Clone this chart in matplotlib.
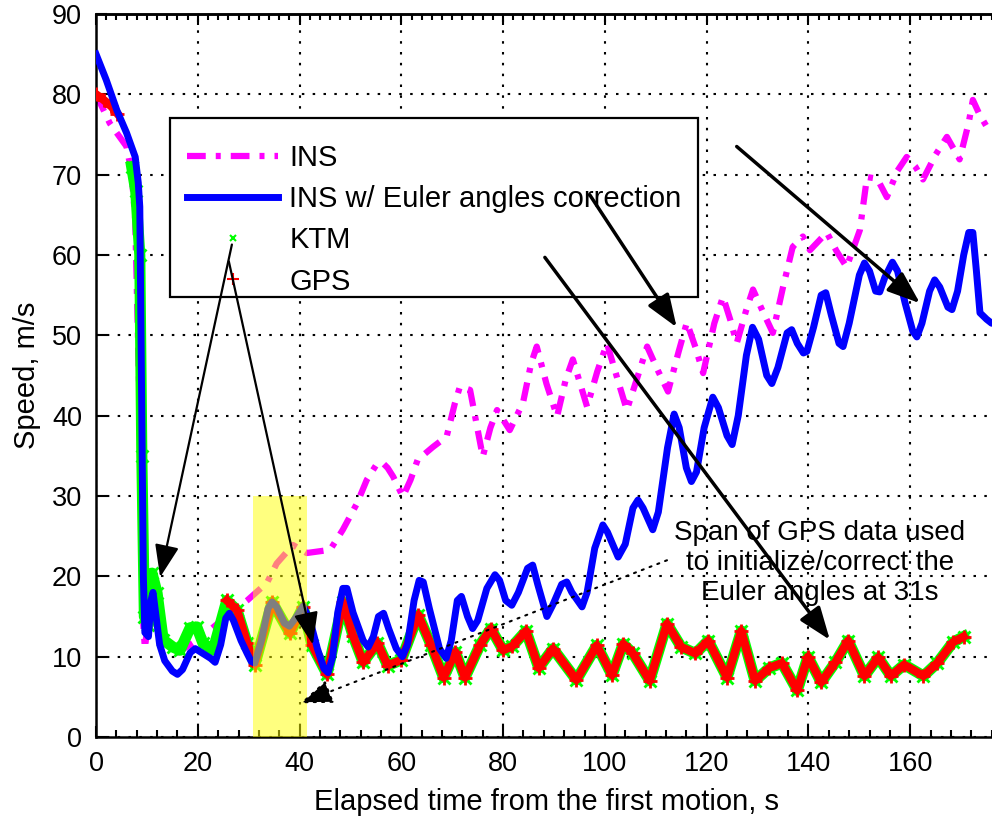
import numpy as np
import matplotlib
matplotlib.use('Agg')
import matplotlib.pyplot as plt
from matplotlib.lines import Line2D
from matplotlib.patches import Rectangle
from matplotlib.ticker import MultipleLocator

plt.rcParams['font.family'] = ['Liberation Sans', 'DejaVu Sans']

# INS (no correction)
t_ins = [0, 2.7, 6, 7, 7.7, 8.6, 9.3, 9.6, 10.5, 12, 13.5, 16, 19, 21.8, 26.3, 29.7,
         33.6, 35.5, 38.7, 41.4, 46, 48.5, 51.3, 53.2, 55, 56.2, 57.3, 58.4, 60.3, 61.8,
         63.2, 66.2, 68.9, 70.5, 71.5, 73.5, 76, 77.5, 78.8, 81.3, 83.9, 85.5, 86.6,
         88.5, 90.6, 92.3, 93.7, 96.5, 98.5, 100.4, 102.5, 104.3, 106.5, 108.3, 110.5,
         112.4, 114.5, 116.1, 117.8, 119.3, 121.5, 123.2, 124.6, 125.9, 127.7, 129.1,
         131, 133, 135, 136.9, 138.9, 140.3, 143.6, 145.5, 147.5, 150.1, 151.5, 153.5,
         155.4, 157.5, 159.3, 161, 162.5, 165, 167.2, 169.7, 171.5, 172.3, 173.6, 175, 178]
v_ins = [80, 76.4, 73.5, 70.2, 64.4, 40, 14, 11, 16, 14, 12, 10.5, 11.7, 13, 15.4, 17,
         19.2, 21.6, 23.9, 22.9, 23.3, 25.8, 29.1, 32, 33.8, 34.2, 33.5, 32.4, 29.9, 32,
         34.5, 36.1, 37.4, 41.5, 43.6, 43.2, 34.9, 38.5, 40.7, 38.2, 41.6, 46.5, 48.6,
         44, 39.9, 44.5, 47, 41.1, 45.5, 49, 44.5, 40.7, 45, 48.6, 45.5,
         43, 48, 51.6, 48.5, 45.3, 51.5, 54.8, 52, 49, 53, 55.7,
         53, 50.3, 56, 61, 62.3, 60.6, 62.8, 60.5, 58.5, 63.1, 69.7, 69.5,
         67.2, 70.5, 72.2, 71, 69.4, 72.5, 74.7, 71.9, 76.5, 79.3, 77.5, 76, 77]

# INS w/ Euler angles correction
t_cor = [0, 2, 4.1, 6, 7.7, 8.3, 8.6, 9.0, 9.3, 9.6, 10.3, 10.8, 11.2, 11.8, 12.5,
         13.5, 15, 16, 17, 18.5, 19.5, 21, 22.5, 23.4, 24.5, 25.5, 26.2, 27, 28.5,
         29.7, 30.5, 31.2, 32.5, 33.8, 34.6, 35.5, 37, 38, 39.2, 40.7, 42, 43.5, 44.8,
         45.6, 46.5, 47.5, 48.5, 49.3, 50.5, 52.5, 53.5, 54.5, 55.5, 56.5, 57.5, 59,
         60.2, 61.2, 62.5, 63.5, 64.3, 65.5, 67.5, 68.8, 69.8, 71, 71.8, 73, 74, 75,
         76.8, 78.4, 79.3, 80.5, 81.7, 83, 84.8, 85.8, 86.8, 88.6, 89.8, 91.5, 92.5,
         93.5, 95.5, 96.5, 98, 99.6, 100.5, 102.6, 104, 105.5, 106.5, 107.5, 109.4,
         110.5, 112.3, 113.6, 114.6, 116, 117, 118, 119.5, 121.2, 122.3, 124, 125,
         126.2, 127.8, 129, 130.2, 131.8, 132.8, 134, 135.8, 136.7, 137.8, 139, 139.7,
         141, 142.5, 143.4, 144.5, 146, 146.8, 148, 150, 151, 152, 153.2, 154, 155,
         156.5, 157.5, 159, 160.5, 161.3, 162.3, 163.8, 164.8, 165.8, 167.4, 168.2,
         169.3, 170.5, 171.5, 172.3, 173, 173.7, 175, 176, 178]
v_cor = [85, 81.8, 78, 75.2, 72.2, 69, 66, 40, 20, 13, 12.5, 17, 18, 15, 11.5,
         9.5, 8.2, 7.8, 8.4, 10.5, 11, 10.4, 9.8, 9.3, 11.5, 14.8, 15.4, 14.5, 12,
         10.4, 9.4, 9.2, 12, 16, 16.8, 16.2, 14.2, 13.8, 14.8, 16.3, 14.6, 11, 8.5,
         8, 10, 15.5, 18.5, 18.5, 15.5, 12, 11.2, 12.5, 15, 15.4, 13.5, 11,
         10, 11.5, 17, 19.5, 19.3, 16, 11, 9.8, 12, 17, 17.5, 15, 13.5, 14.5,
         18.5, 20.2, 19.5, 17, 16.4, 18, 21, 21.4, 19, 15, 16.5, 19, 19.3,
         18, 16.2, 18, 23.5, 26.4, 25.5, 22.4, 24, 28.5, 29.5, 28.5, 25.8,
         28, 36, 40.2, 38.5, 33.5, 31.8, 33, 38.5, 42.3, 41, 37.5, 36.4,
         40, 47.5, 51, 49.5, 45, 44, 46, 50.3, 50.7, 49, 47.8, 48,
         51, 55, 55.3, 52.5, 49, 48.6, 51.5, 57.5, 59, 58, 55.5, 55.4, 57.2,
         59.1, 58, 54, 50.5, 49.8, 51.5, 55.5, 56.9, 56, 53.5, 53.2,
         55.5, 60, 62.8, 62.8, 58, 52.8, 52, 51.5, 52]

# KTM
t_ktm = [7, 7.8, 8.6, 9.0, 9.5, 10.3, 11, 12, 13.2, 15.1, 16.5, 18.5, 19.8, 21, 23,
         25.7, 27.7, 29.7, 31.2, 34.6, 38.1, 40.7, 42.4, 45.4, 48.5, 50.5, 52.5, 55.3,
         57.3, 60, 63.3, 65.8, 68.3, 70.6, 72.5, 75.5, 77.6, 80, 81.8, 84.5, 87, 89.8,
         94.4, 98.4, 101.4, 103.6, 105.5, 108.8, 112.2, 115, 117.8, 120.3, 124, 126.8,
         129.5, 132.3, 134.8, 137.8, 139.9, 142.5, 145.3, 147.8, 151, 153.7, 156.2,
         158.8, 162.6, 165.3, 168.4, 170.5]
v_ktm = [71, 68, 60, 35, 15, 14, 20.4, 17.9, 12.1, 11.2, 10.8, 13.6, 13.7, 11.7, 10.8,
         17, 15.8, 11.7, 9, 16.8, 12.9, 16.2, 11.5, 7.8, 16.8, 12.6, 9.3, 11.7,
         8.9, 9.6, 15.2, 11.5, 7.4, 10.6, 7.4, 11.5, 13.5, 10.8, 11.3, 13.2, 8.6, 11,
         7.1, 11.4, 7.7, 11.6, 10.4, 7, 14.1, 11.2, 10.4, 12, 7.4, 13.2,
         7, 8.6, 9.2, 5.8, 10, 6.8, 9.3, 12, 7.6, 9.9, 7.6,
         9, 7.6, 9.2, 11.8, 12.5]

# GPS (dropout between ~4 s and ~24 s)
t_gps = [0, 1.5, 3, 4.2, np.nan] + t_ktm[15:]
v_gps = [80, 79.3, 78.5, 77.6, np.nan] + v_ktm[15:]

span = (30.8, 41.4)   # GPS span used for the correction

fig = plt.figure(figsize=(9.92, 8.21), dpi=100)
ax = fig.add_axes([0.0968, 0.1023, 0.908, 0.8807])

ax.plot(t_ins, v_ins, color='#ff00ff', lw=4.5, ls=(0, (3, 1.6, 0.8, 1.6)), zorder=2)
ax.plot(t_ktm, v_ktm, color='#00ff00', lw=8, marker='x', ms=9, mew=2,
        solid_joinstyle='round', zorder=3)
ax.plot(t_gps, v_gps, color='#ff0000', lw=6, marker='+', ms=10, mew=2,
        solid_joinstyle='round', zorder=3.5)
ax.plot(t_cor, v_cor, color='#0000ff', lw=5, solid_joinstyle='round', zorder=4)

ax.add_patch(Rectangle((span[0], 0), span[1] - span[0], 30, facecolor='#ffff00',
                       alpha=0.5, edgecolor='none', zorder=5))

ax.set_xlim(0, 177)
ax.set_ylim(0, 90)
ax.xaxis.set_major_locator(MultipleLocator(20))
ax.xaxis.set_minor_locator(MultipleLocator(4))
ax.yaxis.set_major_locator(MultipleLocator(10))
ax.grid(True, color='black', ls=(0, (1.2, 4)), lw=1.5)
ax.set_axisbelow(True)
ax.tick_params(direction='in', which='both', top=False, right=False,
               labelsize=19.5, width=1.5, pad=10)
ax.tick_params(which='major', length=8)
ax.tick_params(which='minor', length=5)
top = ax.secondary_xaxis('top')
top.xaxis.set_major_locator(MultipleLocator(20))
top.xaxis.set_minor_locator(MultipleLocator(2))
top.tick_params(direction='in', which='both', labeltop=False, width=1.5)
top.tick_params(which='major', length=8)
top.tick_params(which='minor', length=4)
for s in ax.spines.values():
    s.set_linewidth(1.8)
top.spines['top'].set_linewidth(1.8)

ax.set_xlabel('Elapsed time from the first motion, s', fontsize=21, labelpad=8)
ax.set_ylabel('Speed, m/s', fontsize=21, labelpad=8)

# legend box
lx0, lx1, ly0, ly1 = 0.0822, 0.6685, 0.6086, 0.8562
ax.add_patch(Rectangle((lx0, ly0), lx1 - lx0, ly1 - ly0, transform=ax.transAxes,
                       facecolor='white', edgecolor='black', lw=1.6, zorder=6))
handles = [Line2D([], [], color='#ff00ff', lw=4.5, ls=(0, (3, 1.6, 0.8, 1.6))),
           Line2D([], [], color='#0000ff', lw=5),
           Line2D([], [], color='#00ff00', ls='none', marker='x', ms=5, mew=1.5),
           Line2D([], [], color='#ff0000', ls='none', marker='+', ms=9, mew=1.5)]
labels = ['INS', 'INS w/ Euler angles correction', 'KTM', 'GPS']
leg = ax.legend(handles, labels, loc='upper left', bbox_to_anchor=(lx0 - 0.01, ly1),
                borderaxespad=0, frameon=False, fontsize=21, handlelength=3.1,
                handletextpad=0.4, labelspacing=0.45, borderpad=0.9)
leg.set_zorder(7)

# arrows
arrows = [((26.7, 61.3), (12.6, 19.9), 1.6),
          ((26.1, 59.2), (42.6, 11.5), 1.6),
          ((97.0, 67.5), (114.1, 51.0), 2.5),
          ((125.9, 73.5), (161.9, 54.0), 2.5),
          ((88.2, 59.7), (144.2, 12.1), 2.5)]
for (x0, y0), (x1, y1), w in arrows:
    ax.annotate('', xy=(x1, y1), xytext=(x0, y0), zorder=8,
                arrowprops=dict(arrowstyle='-|>,head_length=0.8,head_width=0.3',
                                color='black', lw=w, mutation_scale=25,
                                shrinkA=0, shrinkB=0))
ax.annotate('', xy=(40.1, 4.2), xytext=(112.2, 22.0), zorder=8,
            arrowprops=dict(arrowstyle='-|>,head_length=0.8,head_width=0.3',
                            color='black', lw=1.5, ls=(0, (1, 3)), mutation_scale=25,
                            shrinkA=0, shrinkB=0))

ax.text(142.2, 21.7, 'Span of GPS data used\nto initialize/correct the\nEuler angles at 31s',
        ha='center', va='center', fontsize=20, zorder=9)

fig.savefig('out.png', dpi=100)
